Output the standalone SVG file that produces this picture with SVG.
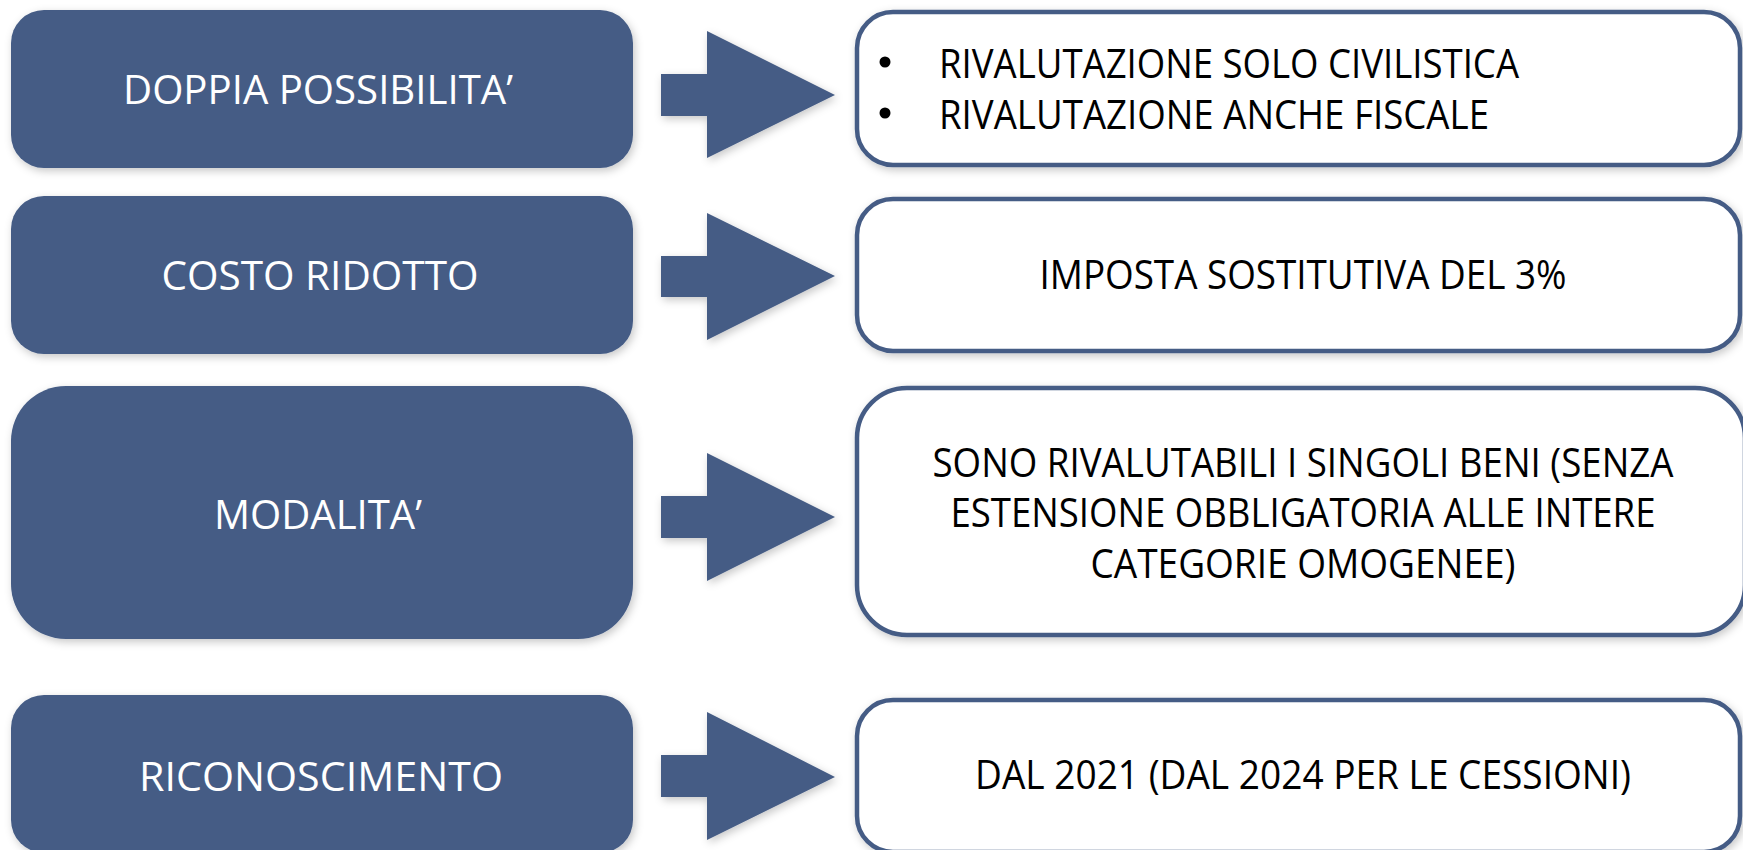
<svg xmlns="http://www.w3.org/2000/svg" width="1743" height="850" viewBox="0 0 1743 850">
  <defs>
    <filter id="sh" x="-10%" y="-20%" width="120%" height="140%">
      <feDropShadow dx="2" dy="3" stdDeviation="4" flood-color="#000000" flood-opacity="0.22"/>
    </filter>
  </defs>
  <style>
    .lbox { fill: #455C85; filter: url(#sh); }
    .rbox { fill: #FFFFFF; stroke: #455C85; stroke-width: 4.5; filter: url(#sh); }
    .arrow { fill: #455C85; filter: url(#sh); }
    .lt { font-family: "Open Sans", "Noto Sans", "Liberation Sans", sans-serif; font-size: 40px; fill: #FFFFFF; text-anchor: middle; }
    .rt { font-family: "Open Sans", "Noto Sans", "Liberation Sans", sans-serif; font-size: 40px; fill: #000000; text-anchor: middle; }
    .rtl { font-family: "Open Sans", "Noto Sans", "Liberation Sans", sans-serif; font-size: 40px; fill: #000000; text-anchor: start; }
    .bullet { fill: #000000; }
  </style>
  <rect width="1743" height="850" fill="#FFFFFF"/>

  <g id="connectors">
    <polygon class="arrow" points="661,74 707,74 707,31 835,95 707,158 707,116 661,116"/>
    <polygon class="arrow" points="661,256 707,256 707,213 835,276 707,340 707,297 661,297"/>
    <polygon class="arrow" points="661,496 707,496 707,453 835,517 707,581 707,538 661,538"/>
    <polygon class="arrow" points="661,755 707,755 707,712 835,777 707,840 707,797 661,797"/>
  </g>

  <g id="node-doppia">
    <rect class="lbox" x="11" y="10" width="622" height="158" rx="33" ry="33"/>
    <text class="lt" x="318" y="104" textLength="390" lengthAdjust="spacingAndGlyphs">DOPPIA POSSIBILITA’</text>
  </g>
  <g id="node-costo">
    <rect class="lbox" x="11" y="196" width="622" height="158" rx="33" ry="33"/>
    <text class="lt" x="320" y="290" textLength="317" lengthAdjust="spacingAndGlyphs">COSTO RIDOTTO</text>
  </g>
  <g id="node-modalita">
    <rect class="lbox" x="11" y="386" width="622" height="253" rx="55" ry="55"/>
    <text class="lt" x="318" y="529" textLength="208" lengthAdjust="spacingAndGlyphs">MODALITA’</text>
  </g>
  <g id="node-riconoscimento">
    <rect class="lbox" x="11" y="695" width="622" height="158" rx="33" ry="33"/>
    <text class="lt" x="321" y="791" textLength="364" lengthAdjust="spacingAndGlyphs">RICONOSCIMENTO</text>
  </g>

  <g id="node-rivalutazione">
    <rect class="rbox" x="857" y="12" width="883" height="153" rx="36" ry="36"/>
    <circle class="bullet" cx="885" cy="62" r="5.5"/>
    <circle class="bullet" cx="885" cy="113" r="5.5"/>
    <text class="rtl" x="939" y="78" textLength="580" lengthAdjust="spacingAndGlyphs">RIVALUTAZIONE SOLO CIVILISTICA</text>
    <text class="rtl" x="939" y="129" textLength="550" lengthAdjust="spacingAndGlyphs">RIVALUTAZIONE ANCHE FISCALE</text>
  </g>
  <g id="node-imposta">
    <rect class="rbox" x="857" y="199" width="883" height="152" rx="36" ry="36"/>
    <text class="rt" x="1303" y="289" textLength="527" lengthAdjust="spacingAndGlyphs">IMPOSTA SOSTITUTIVA DEL 3%</text>
  </g>
  <g id="node-singoli-beni">
    <rect class="rbox" x="857" y="388" width="888" height="247" rx="50" ry="50"/>
    <text class="rt" x="1303" y="477" textLength="741" lengthAdjust="spacingAndGlyphs">SONO RIVALUTABILI I SINGOLI BENI (SENZA</text>
    <text class="rt" x="1303" y="527" textLength="705" lengthAdjust="spacingAndGlyphs">ESTENSIONE OBBLIGATORIA ALLE INTERE</text>
    <text class="rt" x="1303" y="578" textLength="425" lengthAdjust="spacingAndGlyphs">CATEGORIE OMOGENEE)</text>
  </g>
  <g id="node-dal2021">
    <rect class="rbox" x="857" y="700" width="883" height="152" rx="36" ry="36"/>
    <text class="rt" x="1303" y="789" textLength="656" lengthAdjust="spacingAndGlyphs">DAL 2021 (DAL 2024 PER LE CESSIONI)</text>
  </g>
</svg>
